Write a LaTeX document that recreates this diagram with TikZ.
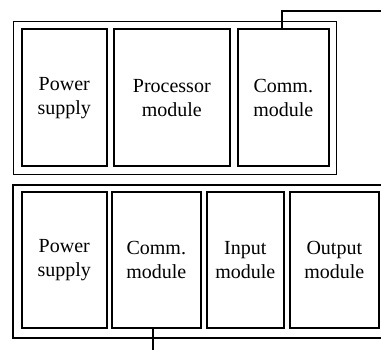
\documentclass[tikz,border=0pt]{standalone}
\usepackage{fontspec}
\setmainfont{Liberation Serif}
\begin{document}
\begin{tikzpicture}[x=1pt,y=1pt,
  rackframe/.style={line width=1.2pt, draw=black},
  modbox/.style={draw=black, line width=1.6pt, rectangle, anchor=south west,
    inner sep=0pt, align=center, font=\fontsize{20}{24}\selectfont},
  link/.style={line width=1.6pt, draw=black}]
\useasboundingbox (0,0) rectangle (381,350);

% upper rack
\node[rackframe, draw, rectangle, inner sep=0pt, anchor=south west,
  minimum width=323pt, minimum height=153pt] (rackA) at (13,175) {};
\node[modbox, minimum width=85pt, minimum height=137pt] (psA) at (21,183) {Power\\supply};
\node[modbox, minimum width=116pt, minimum height=137pt] (cpu) at (113,183) {Processor\\module};
\node[modbox, minimum width=91pt, minimum height=137pt] (commA) at (237,183) {Comm.\\module};

% lower rack, running off to the right
\coordinate (rbTR) at (382,165);
\coordinate (rbBR) at (382,12);
\draw[rackframe] (rbTR) -- (13,165) -- (13,12) -- (rbBR);
\node[modbox, minimum width=85pt, minimum height=136pt] (psB) at (21,21) {Power\\supply};
\node[modbox, minimum width=89pt, minimum height=136pt] (commB) at (111,21) {Comm.\\module};
\node[modbox, minimum width=77pt, minimum height=136pt] (inp) at (206,21) {Input\\module};
\node[modbox, minimum width=89pt, minimum height=136pt] (outp) at (289,21) {Output\\module};

% network links
\coordinate (netA) at (382,339);
\coordinate (netB) at (153,-1);
\draw[link] (commA.north west) ++(45,0) coordinate (tapA) -- (tapA |- netA) -- (netA);
\draw[link] (commB.south west) ++(42,0) coordinate (tapB) -- (tapB |- netB);
\end{tikzpicture}
\end{document}
